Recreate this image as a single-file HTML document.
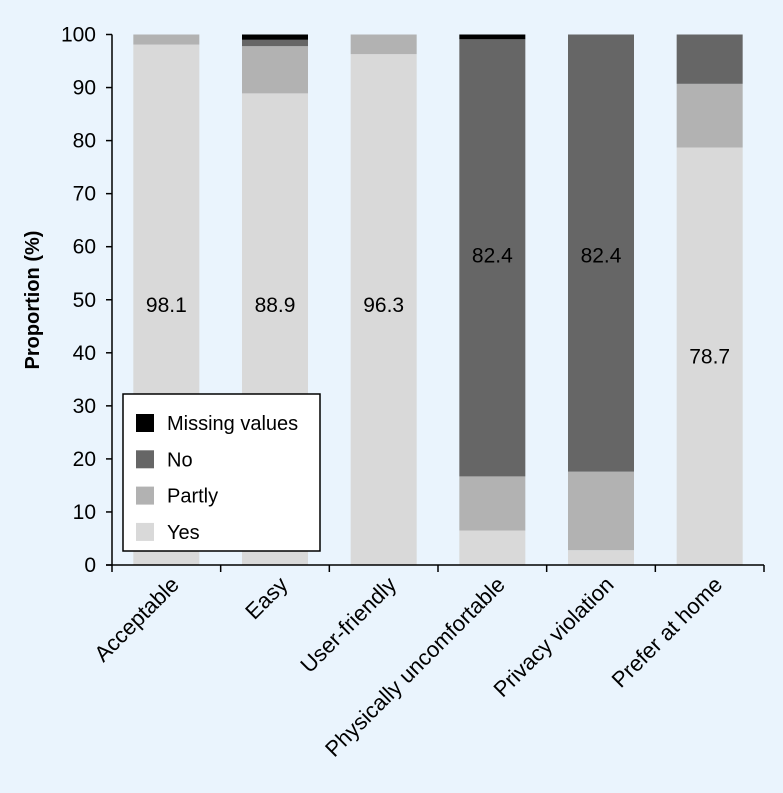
<!DOCTYPE html>
<html><head><meta charset="utf-8"><style>
body{margin:0;background:#eaf4fd;}
svg{display:block;font-family:"Liberation Sans","DejaVu Sans",sans-serif;}
</style></head><body>
<svg id="c" width="783" height="793"></svg>
<script>
const categories=["Acceptable","Easy","User-friendly","Physically uncomfortable","Privacy violation","Prefer at home"];
const yesVals=[98.1,88.9,96.3,6.5,2.8,78.7];
const partlyVals=[1.9,8.9,3.7,10.2,14.8,12.0];
const noVals=[0,1.2,0,82.4,82.4,9.3];
const missingVals=[0,1.0,0,0.9,0,0];
const labelVals=["98.1","88.9","96.3","82.4","82.4","78.7"];
const labelPos=[49,49,49,58.3,58.3,39.3];
const yTicks=[0,10,20,30,40,50,60,70,80,90,100];
const NS="http://www.w3.org/2000/svg";
const svg=document.getElementById('c');
const x0=112,x1=764,y0=565,yTop=34.5;
const band=(x1-x0)/categories.length, bw=66;
const y=v=>y0-(v/100)*(y0-yTop);
const xc=i=>x0+band*(i+0.5);
function el(t,a,p){const e=document.createElementNS(NS,t);for(const k in a)e.setAttribute(k,a[k]);(p||svg).appendChild(e);return e;}
const series=[["yes",yesVals,"#d9d9d9"],["partly",partlyVals,"#b2b2b2"],["no",noVals,"#666666"],["missing",missingVals,"#000000"]];
categories.forEach((c,i)=>{
  let base=0;
  series.forEach(([n,vals,col])=>{
    const v=vals[i];
    if(v>0){const r=el('rect',{x:xc(i)-bw/2,y:y(base+v),width:bw,height:y(base)-y(base+v),fill:col});
    
    }
    base+=v;
  });
  const t=el('text',{x:xc(i),y:y(labelPos[i])+7,'text-anchor':'middle','font-size':21,fill:'#000'});
  t.textContent=labelVals[i];
  
  
  const lx=xc(i)+14,ly=586;
  const xl=el('text',{x:lx,y:ly,'text-anchor':'end','font-size':22,transform:`rotate(-45 ${lx} ${ly})`});
  xl.textContent=c;
  
  
});
const ax=el('path',{d:`M${x0} ${yTop}V${y0}M${x0-6} ${y0}H${x1}`,stroke:'#000','stroke-width':1.5,fill:'none'});


for(let i=0;i<=categories.length;i++){el('line',{x1:x0+band*i,x2:x0+band*i,y1:y0,y2:y0+7,stroke:'#000','stroke-width':1.5});}
yTicks.forEach(v=>{
  el('line',{x1:x0-6,x2:x0,y1:y(v),y2:y(v),stroke:'#000','stroke-width':1.5});
  const t=el('text',{x:96,y:y(v)+7,'text-anchor':'end','font-size':21});
  t.textContent=v;
  
  
});
const yt=el('text',{x:39,y:300,'text-anchor':'middle','font-size':20,'font-weight':'bold',transform:'rotate(-90 39 300)'});
yt.textContent='Proportion (%)';


const lg=el('g',{});


el('rect',{x:123,y:394,width:197,height:157,fill:'#fff',stroke:'#000','stroke-width':1.5},lg);
const legItems=[["Missing values","#000000"],["No","#666666"],["Partly","#b2b2b2"],["Yes","#d9d9d9"]];
legItems.forEach(([n,col],k)=>{
  const cy=423+k*36.3;
  const g=el('g',{},lg);
  
  
  el('rect',{x:136,y:cy-9,width:18,height:18,fill:col},g);
  const t=el('text',{x:167,y:cy+7,'font-size':20},g);t.textContent=n;
});
</script>
</body></html>
